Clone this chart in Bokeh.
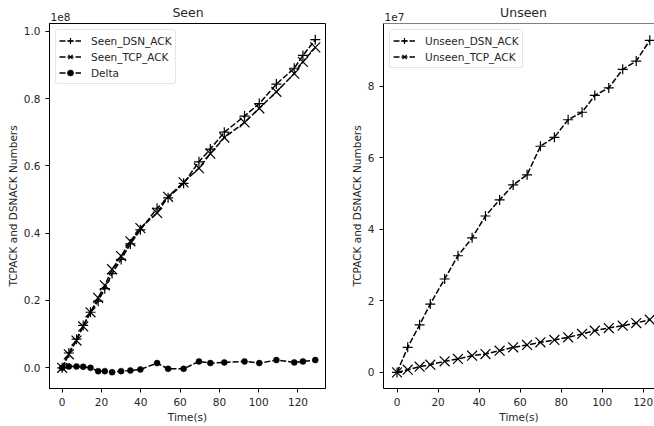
from bokeh.plotting import figure
from bokeh.layouts import row, column
from bokeh.models import Label, Span, FixedTicker, PrintfTickFormatter, Legend, Range1d
from bokeh.embed import file_html
from bokeh.resources import INLINE

# ---- data (values in display units: 1e8 for "Seen", 1e7 for "Unseen") ----
seen_time = [0, 3.4, 7.3, 10.7, 14.4, 18.3, 21.7, 25.4, 30.0, 34.7, 39.8, 48.3,
             53.9, 61.8, 69.6, 75.4, 82.5, 92.8, 100.3, 109.0, 118.1, 122.5, 128.8]
seen_dsn_ack = [0, 0.044, 0.085, 0.126, 0.165, 0.198, 0.235, 0.28, 0.322, 0.368, 0.41, 0.474,
                0.505, 0.548, 0.612, 0.65, 0.70, 0.748, 0.785, 0.843, 0.89, 0.928, 0.975]
seen_tcp_ack = [0, 0.040, 0.081, 0.123, 0.165, 0.208, 0.245, 0.293, 0.332, 0.376, 0.415, 0.46,
                0.508, 0.551, 0.593, 0.636, 0.684, 0.729, 0.771, 0.82, 0.874, 0.909, 0.952]
seen_delta = [0, 0.004, 0.004, 0.003, 0.0, -0.01, -0.01, -0.013, -0.01, -0.008, -0.005, 0.014,
              -0.003, -0.003, 0.019, 0.014, 0.016, 0.019, 0.014, 0.023, 0.016, 0.019, 0.023]

unseen_time = [0, 5.2, 11.0, 16.2, 23.2, 29.7, 36.6, 43.1, 50.0, 56.6, 63.4, 69.9,
               76.7, 83.4, 90.2, 96.4, 103.2, 110.0, 116.6, 123.2]
unseen_dsn_ack = [0, 0.70, 1.33, 1.91, 2.61, 3.26, 3.76, 4.37, 4.82, 5.24, 5.52, 6.32,
                  6.57, 7.06, 7.27, 7.74, 7.95, 8.47, 8.70, 9.28]
unseen_tcp_ack = [0, 0.075, 0.16, 0.215, 0.31, 0.375, 0.467, 0.514, 0.607, 0.70, 0.766, 0.84,
                  0.906, 0.98, 1.074, 1.166, 1.24, 1.306, 1.38, 1.474]

x_ticks = [0, 20, 40, 60, 80, 100, 120]
seen_y_ticks = [0.0, 0.2, 0.4, 0.6, 0.8, 1.0]
unseen_y_ticks = [0, 2, 4, 6, 8]

FONT = "DejaVu Sans"
TXT = "#262626"
DASH = "6 2"
FS = "10.5px"


def style(p, yfmt):
    p.xgrid.visible = False
    p.ygrid.visible = False
    for ax in (p.xaxis[0], p.yaxis[0]):
        ax.axis_label_text_font = FONT
        ax.axis_label_text_font_size = FS
        ax.axis_label_text_font_style = "normal"
        ax.axis_label_text_color = TXT
        ax.major_label_text_font = FONT
        ax.major_label_text_font_size = FS
        ax.major_label_text_color = TXT
        ax.axis_line_color = "black"
        ax.major_tick_line_color = "black"
        ax.major_tick_in = 0
        ax.major_tick_out = 4
        ax.minor_tick_line_color = None
        ax.major_label_standoff = 5
        ax.axis_label_standoff = 2
    p.xaxis[0].ticker = FixedTicker(ticks=x_ticks)
    p.yaxis[0].formatter = PrintfTickFormatter(format=yfmt)
    p.background_fill_color = "white"
    p.border_fill_color = "white"


def style_legend(p):
    lg = p.legend[0]
    lg.location = "top_left"
    lg.margin = 6
    lg.padding = 3
    lg.spacing = 1
    lg.label_text_font = FONT
    lg.label_text_font_size = FS
    lg.label_text_color = TXT
    lg.label_height = 15
    lg.glyph_height = 15
    lg.glyph_width = 22
    lg.label_standoff = 10
    lg.border_line_color = "#cccccc"
    lg.border_line_width = 1
    lg.background_fill_alpha = 0.8
    if "border_radius" in Legend.properties():
        lg.border_radius = 3


# ---- header strip with the titles and the axis offset texts ----
hdr = figure(width=654, height=23, x_range=Range1d(0, 654), y_range=Range1d(23, 0),
             output_backend="svg", toolbar_location=None, min_border=0, title=None,
             x_axis_location=None, y_axis_location=None)
hdr.grid.visible = False
hdr.outline_line_color = None
hdr.background_fill_color = "white"
hdr.border_fill_color = "white"
for txt, x, y, align, size in [("Seen", 187.5, 11.8, "center", "12.5px"),
                               ("1e8", 50, 16.2, "left", FS),
                               ("Unseen", 523, 11.8, "center", "12.5px"),
                               ("1e7", 384, 16.2, "left", FS)]:
    hdr.add_layout(Label(x=x, y=y, text=txt, text_align=align, text_baseline="middle",
                         text_font=FONT, text_font_size=size, text_color=TXT))

# ---- left: Seen ----
p1 = figure(width=347, height=403, x_range=(-6.45, 134), y_range=(-0.0615, 1.023),
            output_backend="svg", toolbar_location=None, title=None,
            x_axis_label="Time(s)", y_axis_label="TCPACK and DSNACK Numbers",
            min_border_left=49, min_border_right=22, min_border_top=0, min_border_bottom=38)
style(p1, "%.1f")
p1.yaxis[0].ticker = FixedTicker(ticks=seen_y_ticks)
p1.outline_line_color = "black"
p1.outline_line_width = 1

p1.line(seen_time, seen_dsn_ack, line_color="black", line_width=1.5, line_dash=DASH, legend_label="Seen_DSN_ACK")
p1.scatter(seen_time, seen_dsn_ack, marker="cross", size=10, line_color="black", line_width=1.2, legend_label="Seen_DSN_ACK")
p1.line(seen_time, seen_tcp_ack, line_color="black", line_width=1.5, line_dash=DASH, legend_label="Seen_TCP_ACK")
p1.scatter(seen_time, seen_tcp_ack, marker="x", size=14, line_color="black", line_width=1.2, legend_label="Seen_TCP_ACK")
p1.line(seen_time, seen_delta, line_color="black", line_width=1.5, line_dash=DASH, legend_label="Delta")
p1.scatter(seen_time, seen_delta, marker="circle", size=6, fill_color="black", line_color="black", line_width=0.5, legend_label="Delta")
style_legend(p1)

# ---- right: Unseen ----
p2 = figure(width=307, height=403, x_range=(-6.6, 125.5), y_range=(-0.45, 9.75),
            output_backend="svg", toolbar_location=None, title=None,
            x_axis_label="Time(s)", y_axis_label="TCPACK and DSNACK Numbers",
            min_border_left=36, min_border_right=0, min_border_top=0, min_border_bottom=38)
style(p2, "%d")
p2.yaxis[0].ticker = FixedTicker(ticks=unseen_y_ticks)
p2.outline_line_color = None
p2.add_layout(Span(location=9.75, dimension="width", line_color="black", line_width=1))

p2.line(unseen_time, unseen_dsn_ack, line_color="black", line_width=1.5, line_dash=DASH, legend_label="Unseen_DSN_ACK")
p2.scatter(unseen_time, unseen_dsn_ack, marker="cross", size=10, line_color="black", line_width=1.2, legend_label="Unseen_DSN_ACK")
p2.line(unseen_time, unseen_tcp_ack, line_color="black", line_width=1.5, line_dash=DASH, legend_label="Unseen_TCP_ACK")
p2.scatter(unseen_time, unseen_tcp_ack, marker="x", size=14, line_color="black", line_width=1.2, legend_label="Unseen_TCP_ACK")
style_legend(p2)

layout = column(hdr, row(p1, p2))
open("out.html", "w").write(file_html(layout, INLINE))
